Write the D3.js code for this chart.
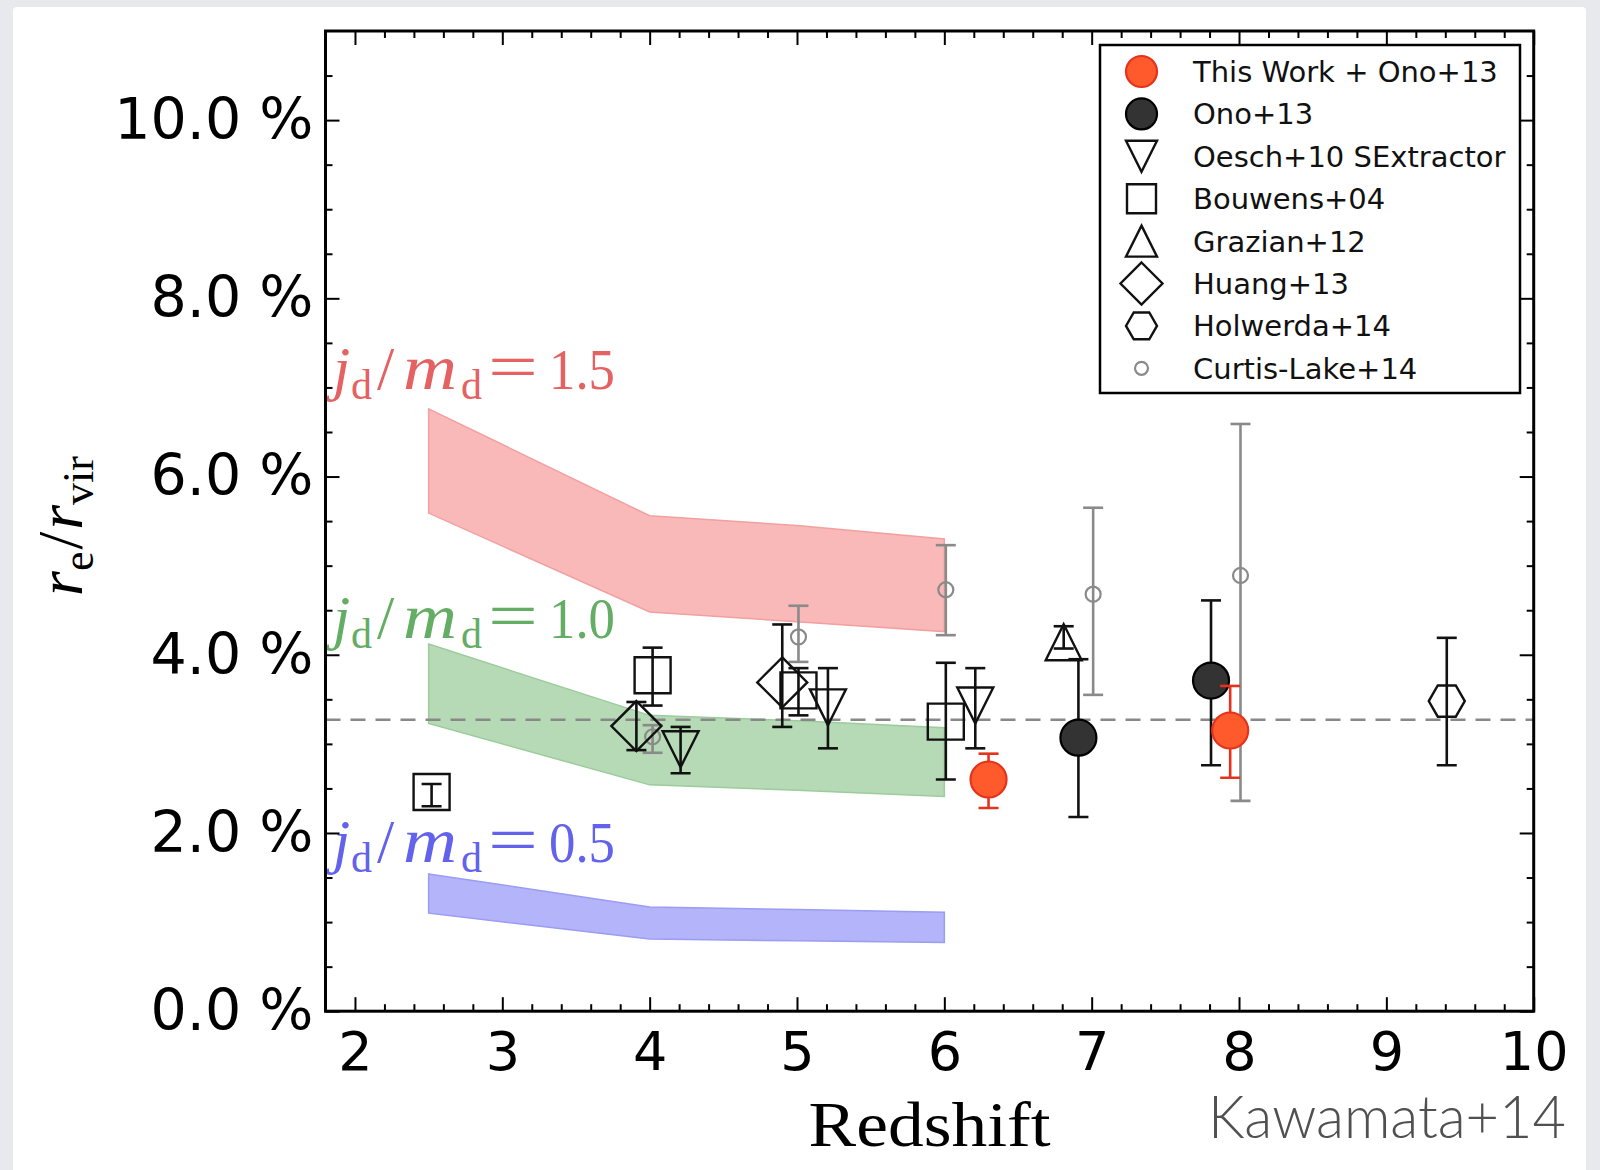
<!DOCTYPE html>
<html>
<head>
<meta charset="utf-8">
<script src="https://cdn.jsdelivr.net/npm/d3@7"></script>
<style>
  html, body { margin: 0; padding: 0; background: #e7e9ed; }
  svg { display: block; }
</style>
</head>
<body>
<svg id="chart" width="1600" height="1170"></svg>
<script>
// ---- Model bands: r_e / r_vir (%) versus redshift for three j_d/m_d values ----
const bandZ      = [2.5, 4, 5, 6];
const band15Hi   = [6.76, 5.56, 5.45, 5.30];
const band15Lo   = [5.59, 4.48, 4.37, 4.26];
const band10Hi   = [4.12, 3.32, 3.26, 3.18];
const band10Lo   = [3.23, 2.54, 2.48, 2.41];
const band05Hi   = [1.54, 1.17, 1.14, 1.11];
const band05Lo   = [1.10, 0.81, 0.79, 0.77];
const bandLabels = ["1.5", "1.0", "0.5"];

// ---- Observations: redshift, value (%), lower and upper error bound ----
const thisWorkZ  = [6.30, 7.94];
const thisWorkY  = [2.60, 3.15];
const thisWorkLo = [2.28, 2.62];
const thisWorkHi = [2.89, 3.65];

const onoZ  = [6.91, 7.81];
const onoY  = [3.07, 3.71];
const onoLo = [2.18, 2.76];
const onoHi = [3.95, 4.61];

const oeschZ  = [4.21, 5.21, 6.21];
const oeschY  = [2.94, 3.41, 3.43];
const oeschLo = [2.67, 2.95, 2.95];
const oeschHi = [3.19, 3.85, 3.85];

const bouwensZ  = [2.52, 4.02, 5.01, 6.01];
const bouwensY  = [2.46, 3.77, 3.60, 3.25];
const bouwensLo = [2.30, 3.43, 3.32, 2.60];
const bouwensHi = [2.55, 4.08, 3.85, 3.91];

const grazianZ  = [6.81];
const grazianY  = [4.14];
const grazianLo = [4.07];
const grazianHi = [4.32];

const huangZ  = [3.91, 4.90];
const huangY  = [3.20, 3.69];
const huangLo = [2.93, 3.19];
const huangHi = [3.47, 4.34];

const holwerdaZ  = [9.41];
const holwerdaY  = [3.48];
const holwerdaLo = [2.76];
const holwerdaHi = [4.19];

const curtisZ  = [4.02, 5.01, 6.01, 7.01, 8.01];
const curtisY  = [3.08, 4.20, 4.73, 4.68, 4.89];
const curtisLo = [2.90, 3.92, 4.22, 3.55, 2.36];
const curtisHi = [3.21, 4.55, 5.23, 5.65, 6.59];

const referenceLevel = 3.27;

// ---- Axis ticks ----
const xTicks = [2, 3, 4, 5, 6, 7, 8, 9, 10];
const yTicks = [0, 2, 4, 6, 8, 10];
const legendLabels = ["This Work + Ono+13", "Ono+13", "Oesch+10 SExtractor", "Bouwens+04",
                      "Grazian+12", "Huang+13", "Holwerda+14", "Curtis-Lake+14"];

// ------------------------------------------------------------------------
const W = 1600, H = 1170;
const svg = d3.select("#chart");

svg.append("rect").attr("width", W).attr("height", H).attr("fill", "#e7e9ed");
svg.append("rect").attr("x", 13).attr("y", 7).attr("width", 1573).attr("height", 1200)
  .attr("rx", 4).attr("fill", "#ffffff");

const plot = { left: 325.5, right: 1533.7, top: 31, bottom: 1011.2 };
const x = d3.scaleLinear().domain([1.8, 10]).range([plot.left, plot.right]);
const y = d3.scaleLinear().domain([0, 11]).range([plot.bottom, plot.top]);

svg.append("clipPath").attr("id", "plotClip").append("rect")
  .attr("x", plot.left).attr("y", plot.top)
  .attr("width", plot.right - plot.left).attr("height", plot.bottom - plot.top);

const g = svg.append("g").attr("clip-path", "url(#plotClip)");

// ---- bands ----
const bands = [
  { hi: band15Hi, lo: band15Lo, fill: "#f9b9b9", edge: "#f2a0a0" },
  { hi: band10Hi, lo: band10Lo, fill: "#b5dab5", edge: "#9ccc9c" },
  { hi: band05Hi, lo: band05Lo, fill: "#b3b4fa", edge: "#9c9cf2" }
];
const area = d3.area().x(d => x(d.z)).y0(d => y(d.lo)).y1(d => y(d.hi));
bands.forEach(b => {
  const pts = bandZ.map((z, i) => ({ z, lo: b.lo[i], hi: b.hi[i] }));
  g.append("path").attr("d", area(pts))
    .attr("fill", b.fill).attr("stroke", b.edge).attr("stroke-width", 1.5);
});

// ---- horizontal reference level ----
g.append("line")
  .attr("x1", plot.left).attr("x2", plot.right)
  .attr("y1", y(referenceLevel)).attr("y2", y(referenceLevel))
  .attr("stroke", "#888").attr("stroke-width", 2.5).attr("stroke-dasharray", "15,10");

// ---- custom marker shapes ----
const shapes = {
  circle:  { draw(c, s) { const r = s; c.moveTo(r, 0); c.arc(0, 0, r, 0, 2 * Math.PI); } },
  square:  { draw(c, s) { c.rect(-s, -s, 2 * s, 2 * s); } },
  diamond: { draw(c, s) { c.moveTo(0, -s); c.lineTo(s, 0); c.lineTo(0, s); c.lineTo(-s, 0); c.closePath(); } },
  triDown: { draw(c, s) { c.moveTo(-s, -s); c.lineTo(s, -s); c.lineTo(0, s); c.closePath(); } },
  triUp:   { draw(c, s) { c.moveTo(0, -s); c.lineTo(s, s); c.lineTo(-s, s); c.closePath(); } },
  hexagon: { draw(c, s) {
    for (let k = 0; k < 6; k++) {
      const a = k * Math.PI / 3;
      const px = s * Math.cos(a), py = s * Math.sin(a);
      if (k === 0) c.moveTo(px, py); else c.lineTo(px, py);
    }
    c.closePath();
  } }
};
const symbolPath = (shape, size) => { const p = d3.path(); shapes[shape].draw(p, size); return p.toString(); };

// ---- series definitions ----
const series = [
  { z: curtisZ, v: curtisY, lo: curtisLo, hi: curtisHi, shape: "circle", size: 7.5, legendSize: 6.5,
    fill: "none", stroke: "#8a8a8a", err: "#8a8a8a", sw: 2.2 },
  { z: bouwensZ, v: bouwensY, lo: bouwensLo, hi: bouwensHi, shape: "square", size: 18, legendSize: 14.5,
    fill: "none", stroke: "#111", err: "#111", sw: 2.4 },
  { z: huangZ, v: huangY, lo: huangLo, hi: huangHi, shape: "diamond", size: 25, legendSize: 21,
    fill: "none", stroke: "#111", err: "#111", sw: 2.4 },
  { z: oeschZ, v: oeschY, lo: oeschLo, hi: oeschHi, shape: "triDown", size: 18, legendSize: 15.5,
    fill: "none", stroke: "#111", err: "#111", sw: 2.4 },
  { z: grazianZ, v: grazianY, lo: grazianLo, hi: grazianHi, shape: "triUp", size: 18, legendSize: 15.5,
    fill: "none", stroke: "#111", err: "#111", sw: 2.4 },
  { z: holwerdaZ, v: holwerdaY, lo: holwerdaLo, hi: holwerdaHi, shape: "hexagon", size: 18, legendSize: 15.5,
    fill: "none", stroke: "#111", err: "#111", sw: 2.4 },
  { z: onoZ, v: onoY, lo: onoLo, hi: onoHi, shape: "circle", size: 18, legendSize: 15.5,
    fill: "#333333", stroke: "#000", err: "#111", sw: 2.2 },
  { z: thisWorkZ, v: thisWorkY, lo: thisWorkLo, hi: thisWorkHi, shape: "circle", size: 18, legendSize: 15.5,
    fill: "#ff5a2c", stroke: "#e5321c", err: "#e5321c", sw: 2.2 }
];

const capHalf = 10;
series.forEach(s => {
  const pts = s.z.map((z, i) => ({ z, v: s.v[i], lo: s.lo[i], hi: s.hi[i] }));
  const eg = g.append("g").attr("stroke", s.err).attr("stroke-width", 2.6).attr("fill", "none");
  pts.forEach(p => {
    eg.append("line").attr("x1", x(p.z)).attr("x2", x(p.z)).attr("y1", y(p.lo)).attr("y2", y(p.hi));
    [p.lo, p.hi].forEach(b => eg.append("line")
      .attr("x1", x(p.z) - capHalf).attr("x2", x(p.z) + capHalf)
      .attr("y1", y(b)).attr("y2", y(b)));
  });
  g.append("g").selectAll("path").data(pts).join("path")
    .attr("transform", p => `translate(${x(p.z)},${y(p.v)})`)
    .attr("d", symbolPath(s.shape, s.size))
    .attr("fill", s.fill).attr("stroke", s.stroke).attr("stroke-width", s.sw);
});

// ---- band labels (j_d / m_d = value), typeset piece by piece ----
const labelColors = ["#e46262", "#64ad64", "#6262ec"];
const labelBaselines = [389, 638, 862];
const labelPieces = [
  { dx: 0,   text: "j", italic: true,  size: 62, sub: false, len: null },
  { dx: 18,  text: "d", italic: false, size: 42, sub: true,  len: null },
  { dx: 44,  text: "/", italic: false, size: 62, sub: false, len: null },
  { dx: 70,  text: "m", italic: true,  size: 64, sub: false, len: 54 },
  { dx: 128, text: "d", italic: false, size: 42, sub: true,  len: null },
  { dx: 155, text: "=", italic: false, size: 66, sub: false, len: 50 },
  { dx: 216, text: null, italic: false, size: 58, sub: false, len: 66 }
];
bandLabels.forEach((val, i) => {
  const t = svg.append("text")
    .attr("y", labelBaselines[i])
    .attr("font-family", "'Liberation Serif', 'DejaVu Serif', serif")
    .attr("fill", labelColors[i]);
  labelPieces.forEach(p => {
    const ts = t.append("tspan")
      .attr("x", 333 + p.dx)
      .attr("y", labelBaselines[i] + (p.sub ? 10 : 0))
      .attr("font-size", p.size)
      .attr("font-style", p.italic ? "italic" : "normal")
      .text(p.text === null ? val : p.text);
    if (p.len) ts.attr("textLength", p.len).attr("lengthAdjust", "spacingAndGlyphs");
  });
});

// ---- axes ----
const xMinor = d3.range(9, 51).map(i => i / 5).filter(v => Math.abs(v - Math.round(v)) > 1e-6);
const yMinor = d3.range(1, 22).map(i => i / 2).filter(v => v % 2 !== 0);

const axisStyle = sel => {
  sel.select(".domain").remove();
  sel.selectAll(".tick line").attr("stroke", "#000").attr("stroke-width", 2);
};

svg.append("g").attr("transform", `translate(${plot.left},0)`)
  .call(d3.axisLeft(y).tickValues(yTicks).tickSizeInner(-14).tickSizeOuter(0).tickPadding(12)
    .tickFormat(d => d.toFixed(1) + " %"))
  .call(axisStyle)
  .call(a => a.selectAll("text").attr("font-family", "'DejaVu Sans', sans-serif")
    .attr("font-size", 57).attr("fill", "#000"));
svg.append("g").attr("transform", `translate(${plot.left},0)`)
  .call(d3.axisLeft(y).tickValues(yMinor).tickSizeInner(-7).tickSizeOuter(0).tickFormat(""))
  .call(axisStyle);
svg.append("g").attr("transform", `translate(${plot.right},0)`)
  .call(d3.axisRight(y).tickValues(yTicks).tickSizeInner(-14).tickSizeOuter(0).tickFormat(""))
  .call(axisStyle);
svg.append("g").attr("transform", `translate(${plot.right},0)`)
  .call(d3.axisRight(y).tickValues(yMinor).tickSizeInner(-7).tickSizeOuter(0).tickFormat(""))
  .call(axisStyle);

svg.append("g").attr("transform", `translate(0,${plot.bottom})`)
  .call(d3.axisBottom(x).tickValues(xTicks).tickSizeInner(-14).tickSizeOuter(0).tickPadding(20)
    .tickFormat(d3.format("d")))
  .call(axisStyle)
  .call(a => a.selectAll("text").attr("font-family", "'DejaVu Sans', sans-serif")
    .attr("font-size", 54).attr("fill", "#000"));
svg.append("g").attr("transform", `translate(0,${plot.bottom})`)
  .call(d3.axisBottom(x).tickValues(xMinor).tickSizeInner(-7).tickSizeOuter(0).tickFormat(""))
  .call(axisStyle);
svg.append("g").attr("transform", `translate(0,${plot.top})`)
  .call(d3.axisTop(x).tickValues(xTicks).tickSizeInner(-14).tickSizeOuter(0).tickFormat(""))
  .call(axisStyle);
svg.append("g").attr("transform", `translate(0,${plot.top})`)
  .call(d3.axisTop(x).tickValues(xMinor).tickSizeInner(-7).tickSizeOuter(0).tickFormat(""))
  .call(axisStyle);

// frame
svg.append("rect")
  .attr("x", plot.left).attr("y", plot.top)
  .attr("width", plot.right - plot.left).attr("height", plot.bottom - plot.top)
  .attr("fill", "none").attr("stroke", "#000").attr("stroke-width", 3);

// ---- axis titles ----
svg.append("text")
  .attr("x", (plot.left + plot.right) / 2).attr("y", 1146)
  .attr("text-anchor", "middle")
  .attr("font-family", "'Liberation Serif', 'DejaVu Serif', serif")
  .attr("font-size", 64).attr("fill", "#000")
  .attr("textLength", 242).attr("lengthAdjust", "spacingAndGlyphs")
  .text("Redshift");

const yt = svg.append("text")
  .attr("transform", "translate(82,526) rotate(-90)")
  .attr("text-anchor", "middle")
  .attr("font-family", "'Liberation Serif', 'DejaVu Serif', serif")
  .attr("font-size", 64).attr("fill", "#000");
yt.append("tspan").attr("font-style", "italic").text("r");
yt.append("tspan").attr("font-size", 44).attr("dy", 11).text("e");
yt.append("tspan").attr("dy", -11).attr("dx", 2).text("/");
yt.append("tspan").attr("font-style", "italic").attr("dx", 2).text("r");
yt.append("tspan").attr("font-size", 44).attr("dy", 11).text("vir");

svg.append("text")
  .attr("x", 1208).attr("y", 1138)
  .attr("font-family", "Lato, 'Open Sans', sans-serif").attr("font-weight", 300)
  .attr("font-size", 60).attr("fill", "#505050")
  .attr("textLength", 358).attr("lengthAdjust", "spacingAndGlyphs")
  .text("Kawamata+14");

// ---- legend ----
const legend = svg.append("g");
legend.append("rect").attr("x", 1100).attr("y", 45).attr("width", 420).attr("height", 348)
  .attr("fill", "#fff").attr("stroke", "#000").attr("stroke-width", 2.5);
const legendOrder = [7, 6, 3, 1, 4, 2, 5, 0];   // series index for each legend row
legendOrder.forEach((si, row) => {
  const s = series[si];
  const cy = 71.5 + row * 42.4;
  legend.append("path")
    .attr("transform", `translate(1141.5,${cy})`)
    .attr("d", symbolPath(s.shape, s.legendSize))
    .attr("fill", s.fill).attr("stroke", s.stroke).attr("stroke-width", s.sw);
  legend.append("text")
    .attr("x", 1193).attr("y", cy + 10.5)
    .attr("font-family", "'DejaVu Sans', sans-serif").attr("font-size", 29).attr("fill", "#111")
    .text(legendLabels[row]);
});
</script>
</body>
</html>
